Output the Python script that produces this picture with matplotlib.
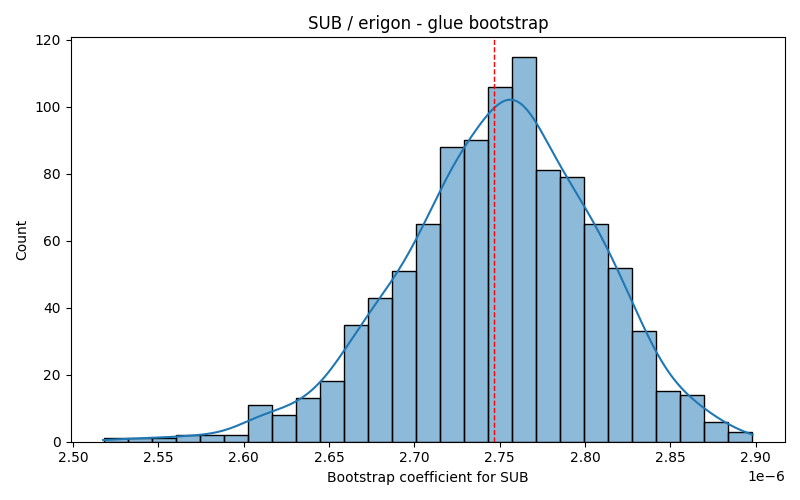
import matplotlib
matplotlib.use("Agg")
import matplotlib.pyplot as plt
import numpy as np
import pandas as pd
import seaborn as sns

# histogram (coefficient in units of 1e-6)
first_edge = 2.518e-6
last_edge = 2.8977e-6
counts = [1, 1, 1, 2, 2, 2, 11, 8, 13, 18, 35, 43, 51, 65, 88, 90,
          106, 115, 81, 79, 65, 52, 33, 15, 14, 6, 3]
mean_value = 2.7465e-6

title = "SUB / erigon - glue bootstrap"
xlabel = "Bootstrap coefficient for SUB"


def main():
    edges = np.linspace(first_edge, last_edge, len(counts) + 1)
    centers = (edges[:-1] + edges[1:]) / 2
    df = pd.DataFrame({"coef": centers, "n": counts})

    fig, ax = plt.subplots(figsize=(8, 5), dpi=100)
    # weights shrink the effective sample size, so narrow the bandwidth
    sns.histplot(data=df, x="coef", weights="n", bins=len(counts),
                 binrange=(first_edge, last_edge), kde=True,
                 kde_kws={"bw_adjust": 0.43, "cut": 0.3}, ax=ax)
    ax.axvline(mean_value, color="red", linestyle="--", linewidth=1)
    ax.set_title(title)
    ax.set_xlabel(xlabel)
    ax.set_ylabel("Count")
    fig.tight_layout()
    fig.savefig("out.png")


if __name__ == "__main__":
    main()
